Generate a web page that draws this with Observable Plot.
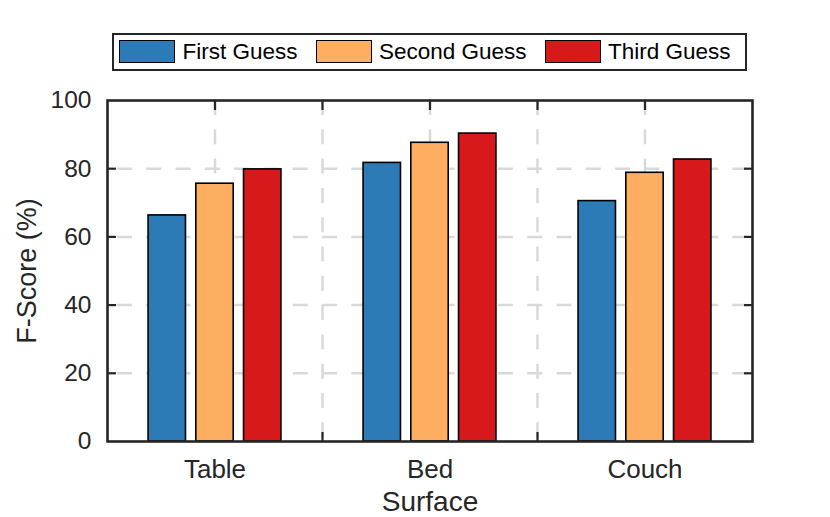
<!DOCTYPE html>
<html>
<head>
<meta charset="utf-8">
<script src="https://cdn.jsdelivr.net/npm/d3@7"></script>
<script src="https://cdn.jsdelivr.net/npm/@observablehq/plot@0.6"></script>
<style>
  html, body { margin: 0; padding: 0; background: #fff; }
  #wrap { position: relative; width: 830px; height: 517px; font-family: "Liberation Sans", Arial, sans-serif; }
  #chart { position: absolute; left: 0; top: 0; }
  #legend {
    position: absolute; left: 112px; top: 32.5px; width: 635px; height: 38.5px;
    box-sizing: border-box; border: 2.6px solid #262626; background: #fff;
    display: flex; align-items: center; padding-left: 5.4px; z-index: 2;
  }
  .item { display: flex; align-items: center; margin-right: 18.5px; }
  .sw { width: 56px; height: 23px; box-sizing: border-box; border: 1.5px solid #000; }
  .lbl { margin-left: 7px; font-size: 22.5px; color: #000; white-space: nowrap; line-height: 1; }
</style>
</head>
<body>
<div id="wrap">
  <div id="chart"></div>
  <div id="legend"></div>
</div>
<script>
// ---- data ----
const categories = ["Table", "Bed", "Couch"];
const series = ["First Guess", "Second Guess", "Third Guess"];
const firstGuess = [66.3, 81.7, 70.5];
const secondGuess = [75.6, 87.6, 78.8];
const thirdGuess = [79.8, 90.3, 82.7];
const colors = ["#2c7bb6", "#fdae61", "#d7191c"];
const yTicks = [0, 20, 40, 60, 80, 100];
const yGridTicks = [20, 40, 60, 80];
const xTickPositions = [1, 1.5, 2, 2.5, 3];

// ---- table ----
const seriesValues = [firstGuess, secondGuess, thirdGuess];
const rows = [];
categories.forEach((c, ci) => {
  series.forEach((s, si) => {
    rows.push({category: c, ci: ci + 1, series: s, si, value: seriesValues[si][ci]});
  });
});

const groupStep = 0.222;
const halfBar = 0.087;

const font = "Liberation Sans, Arial, sans-serif";
const ink = "#262626";
const gridStyle = {stroke: "#d9d9d9", strokeOpacity: 1, strokeWidth: 2.5, strokeDasharray: "15,14.3"};

const chart = Plot.plot({
  width: 830,
  height: 517,
  marginLeft: 107,
  marginRight: 78,
  marginTop: 100,
  marginBottom: 76,
  style: {fontFamily: font, color: ink, background: "#fff", overflow: "visible"},
  x: {domain: [0.5, 3.5]},
  y: {domain: [0, 100]},
  color: {domain: series, range: colors},
  marks: [
    Plot.gridX({ticks: xTickPositions, ...gridStyle}),
    Plot.gridY({ticks: yGridTicks, ...gridStyle, strokeDashoffset: 19.3}),
    // bottom inward ticks (behind bars)
    Plot.axisX({anchor: "bottom", ticks: xTickPositions, tickSize: -9, tickFormat: () => "", label: null, strokeWidth: 2.2}),
    Plot.rectY(rows, {
      x1: d => d.ci + (d.si - 1) * groupStep - halfBar,
      x2: d => d.ci + (d.si - 1) * groupStep + halfBar,
      y: "value",
      fill: "series",
      stroke: "#000",
      strokeWidth: 1.6,
      inset: 0
    }),
    Plot.frame({stroke: ink, strokeWidth: 2.6}),
    Plot.axisX({anchor: "top", ticks: xTickPositions, tickSize: -9, tickFormat: () => "", label: null, strokeWidth: 2.2}),
    Plot.axisY({anchor: "left", ticks: yGridTicks, tickSize: -9, tickFormat: () => "", label: null, strokeWidth: 2.2}),
    Plot.axisY({anchor: "right", ticks: yGridTicks, tickSize: -9, tickFormat: () => "", label: null, strokeWidth: 2.2}),
    // tick labels
    Plot.axisX({anchor: "bottom", ticks: [1, 2, 3], tickSize: 0, tickPadding: 18, tickFormat: d => categories[d - 1], fontSize: 26, label: null}),
    Plot.axisY({anchor: "left", ticks: yTicks, tickSize: 0, tickPadding: 16, fontSize: 24.5, label: null}),
    // axis titles
    Plot.text(["Surface"], {frameAnchor: "bottom", text: d => d, dy: 69, textAnchor: "middle", lineAnchor: "bottom", fontSize: 28, fill: ink}),
    Plot.text(["F-Score (%)"], {frameAnchor: "left", text: d => d, dx: -71.5, rotate: -90, textAnchor: "middle", lineAnchor: "bottom", fontSize: 27, fill: ink})
  ]
});
document.getElementById("chart").appendChild(chart);

// ---- legend ----
const legend = document.getElementById("legend");
series.forEach((s, i) => {
  const item = document.createElement("div");
  item.className = "item";
  const sw = document.createElement("div");
  sw.className = "sw";
  sw.style.background = colors[i];
  const lbl = document.createElement("span");
  lbl.className = "lbl";
  lbl.textContent = s;
  item.appendChild(sw);
  item.appendChild(lbl);
  legend.appendChild(item);
});
</script>
</body>
</html>
